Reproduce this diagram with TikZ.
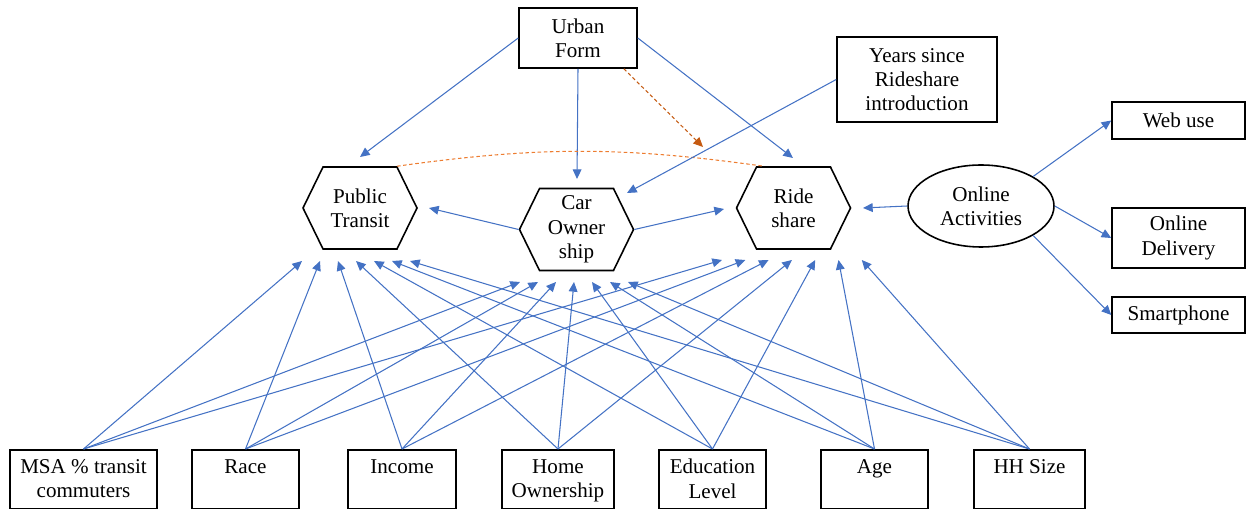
\documentclass[tikz,border=0pt]{standalone}
\usepackage{fontspec}
\setmainfont{Liberation Serif}
\usetikzlibrary{shapes.geometric,shapes.symbols,arrows.meta}

\definecolor{linkblue}{HTML}{4472C4}
\definecolor{darkorange}{HTML}{C55A11}
\definecolor{lightorange}{HTML}{ED7D31}

\tikzset{
  box/.style={draw, line width=0.9pt, align=center, inner sep=2pt},
  factor/.style={draw, line width=0.9pt, anchor=north, minimum height=1.19cm,
    label={[anchor=north, align=center, inner sep=0pt, yshift=-0.2cm]north:#1}},
  hexa/.style={draw, line width=0.9pt, signal, signal to=west and east,
    signal pointer angle=128, minimum width=2.28cm, minimum height=1.64cm,
    align=center, inner sep=1pt},
  link/.style={draw=linkblue, line width=0.6pt, -{Triangle[length=5.5pt,width=5pt]}},
  dashlink/.style={line width=0.6pt, dash pattern=on 2pt off 1.5pt},
}

\begin{document}
\begin{tikzpicture}[x=0.02cm, y=0.02cm, font=\fontsize{12}{13.8}\selectfont]
  \useasboundingbox (0,0) rectangle (1247,-509);

  % top row
  \node[box, minimum width=2.36cm, minimum height=1.2cm] (urban) at (578,-38) {Urban\\Form};
  \node[box, minimum width=3.2cm, minimum height=1.7cm] (years) at (917,-79.5) {Years since\\Rideshare\\introduction};

  % outcomes
  \node[hexa] (pt) at (360,-208) {Public\\Transit};
  \node[hexa] (co) at (576.5,-229.5) {Car\\Owner\\ship};
  \node[hexa] (rs) at (793.5,-208) {Ride\\share};

  % online activities
  \node[draw, line width=0.9pt, ellipse, minimum width=2.92cm, minimum height=1.64cm,
    inner sep=0pt, align=center] (oa) at (981,-206) {Online\\Activities};
  \node[box, minimum width=2.66cm, minimum height=0.74cm] (web) at (1178.5,-120.5) {Web use};
  \node[box, minimum width=2.66cm, minimum height=1.2cm] (del) at (1178.5,-238) {Online\\Delivery};
  \node[box, minimum width=2.66cm, minimum height=0.72cm] (smart) at (1178.5,-315) {Smartphone};

  % socio-demographic factors
  \node[factor={MSA \% transit\\commuters}, minimum width=2.94cm] (msa) at (83.5,-449) {};
  \node[factor={Race}, minimum width=2.14cm] (race) at (245.5,-449) {};
  \node[factor={Income}, minimum width=2.16cm] (inc) at (402,-449) {};
  \node[factor={Home\\Ownership}, minimum width=2.24cm] (home) at (558,-449) {};
  \node[factor={Education\\Level}, minimum width=2.14cm] (edu) at (712.5,-449) {};
  \node[factor={Age}, minimum width=2.14cm] (age) at (874.5,-449) {};
  \node[factor={HH Size}, minimum width=2.22cm] (hhs) at (1029.5,-449) {};

  % free ends
  \coordinate (ptTop) at (360,-157);
  \coordinate (coTop) at (577,-179);
  \coordinate (rsTop) at (793,-158);
  \coordinate (coNE) at (627,-193);
  \coordinate (ptRight) at (429,-208);
  \coordinate (rsLeft) at (724,-209);
  \coordinate (rsRight) at (863,-208);
  \coordinate (ufTip) at (703,-147);

  \draw[link] (urban.west) -- (ptTop);
  \draw[link] (urban.south) -- (coTop);
  \draw[link] (urban.east) -- (rsTop);
  \draw[link, draw=darkorange, dashlink] ([xshift=-0.28cm]urban.south east) -- (ufTip);
  \draw[lightorange, dashlink] ([xshift=0.74cm]pt.north) to[bend left=8] ([xshift=-0.6cm]rs.north);
  \draw[link] (years.west) -- (coNE);
  \draw[link] (co.west) -- (ptRight);
  \draw[link] (co.east) -- (rsLeft);
  \draw[link] (oa.west) -- (rsRight);
  \draw[link] (oa.north east) -- (web.west);
  \draw[link] (oa.east) -- (del.west);
  \draw[link] (oa.south east) -- (smart.west);

  \foreach \src [count=\i from 0] in {msa,race,inc,home,edu,age,hhs}{
    \coordinate (pt\i) at ({302+18*\i},-261);
    \coordinate (co\i) at ({520+18*\i},-282);
    \coordinate (rs\i) at ({722+23.3*\i},-260);
    \draw[link] (\src.north) -- (pt\i);
    \draw[link] (\src.north) -- (co\i);
    \draw[link] (\src.north) -- (rs\i);
  }
\end{tikzpicture}
\end{document}
